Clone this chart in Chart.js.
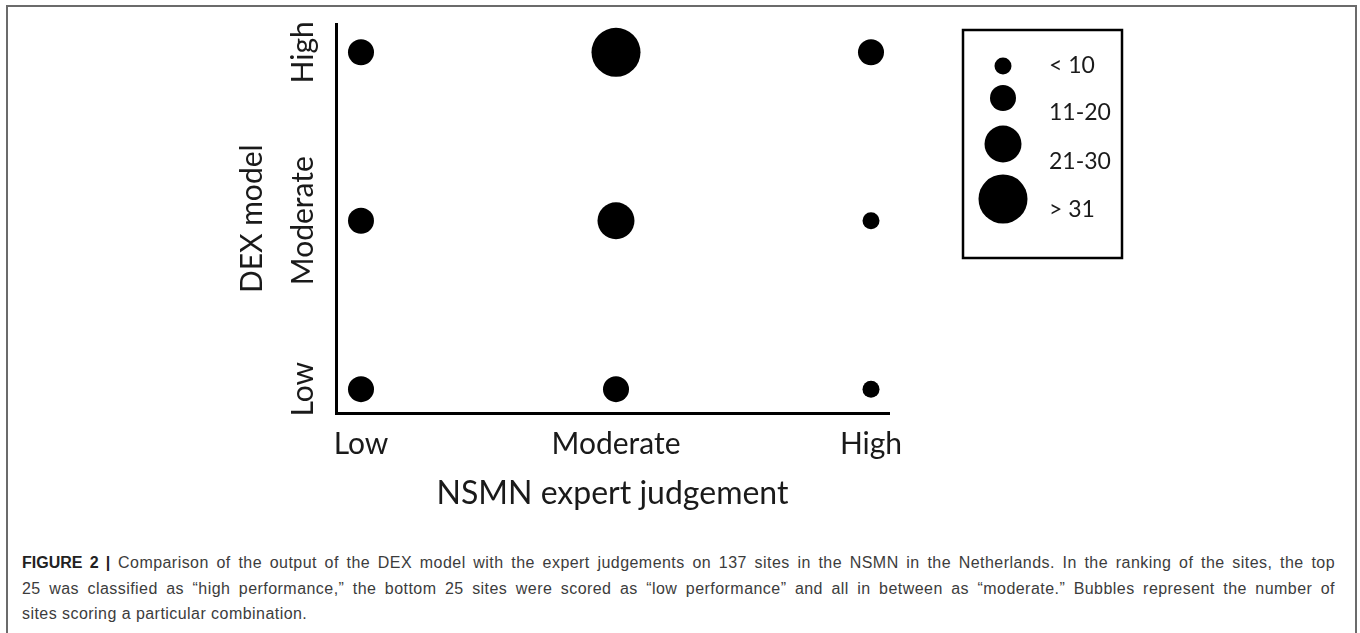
<!DOCTYPE html>
<html>
<head>
<meta charset="utf-8">
<script src="https://cdn.jsdelivr.net/npm/chart.js@4.4.1/dist/chart.umd.min.js"></script>
<style>
  html, body { margin: 0; padding: 0; background: #fff; }
  body { width: 1360px; height: 633px; position: relative; overflow: hidden; }
  #frame { position: absolute; left: 6px; top: 5px; width: 1347px; height: 700px; border: 2px solid #6b6b6b; border-bottom: none; }
  #wrap { position: absolute; left: 0; top: 0; width: 1360px; height: 540px; }
  #caption { position: absolute; left: 22px; top: 550px; width: 1313px; font-family: "Liberation Sans", Arial, sans-serif; font-size: 16px; letter-spacing: 0.45px; color: #3c3c3c; }
  #caption .line { height: 25.7px; line-height: 25.7px; white-space: nowrap; text-align: justify; text-align-last: justify; }
  #caption .line.last { text-align-last: left; }
  #caption b { color: #222; letter-spacing: 0; }
</style>
</head>
<body>
<div id="frame"></div>
<div id="wrap"><canvas id="chart"></canvas></div>
<div id="caption">
  <div class="line"><b>FIGURE 2 |</b> Comparison of the output of the DEX model with the expert judgements on 137 sites in the NSMN in the Netherlands. In the ranking of the sites, the top</div>
  <div class="line">25 was classified as “high performance,” the bottom 25 sites were scored as “low performance” and all in between as “moderate.” Bubbles represent the number of</div>
  <div class="line last">sites scoring a particular combination.</div>
</div>
<script>
// categories on both axes
const expertLevels = ["Low", "Moderate", "High"];
const dexLevels = ["Low", "Moderate", "High"];

// number of sites per DEX row, by expert column (Low, Moderate, High)
const sitesDexLow = [15, 13, 5];
const sitesDexModerate = [14, 25, 6];
const sitesDexHigh = [13, 34, 12];

// legend classes
const legendLabels = ["< 10", "11-20", "21-30", "> 31"];
const legendCounts = [5, 15, 25, 35];

const FONT = "Lato, 'Open Sans', sans-serif";
const TEXT = "#1a1a1a";

function bubbleRadius(n) {
  if (n <= 10) return 8.5;
  if (n <= 20) return 13;
  if (n <= 30) return 18.5;
  return 24.5;
}

const points = [];
[sitesDexLow, sitesDexModerate, sitesDexHigh].forEach((row, yi) => {
  row.forEach((n, xi) => {
    points.push({ x: xi, y: yi, r: bubbleRadius(n), n: n });
  });
});

// y tick labels are rotated and centred on x=303
const mctx = document.createElement("canvas").getContext("2d");
mctx.font = "30px " + FONT;
const widest = Math.max(...dexLevels.map(t => mctx.measureText(t).width));

const legendBox = {
  id: "legendBox",
  afterDraw(chart) {
    const ctx = chart.ctx;
    ctx.save();
    ctx.strokeStyle = "#000";
    ctx.lineWidth = 2.5;
    ctx.strokeRect(963, 30, 159, 228);
    const cy = [66, 98, 144, 199];
    const ty = [66, 113, 162, 210];
    ctx.fillStyle = "#000";
    legendCounts.forEach((n, i) => {
      ctx.beginPath();
      ctx.arc(1003, cy[i], bubbleRadius(n), 0, Math.PI * 2);
      ctx.fill();
    });
    ctx.fillStyle = TEXT;
    ctx.font = "23px " + FONT;
    ctx.textBaseline = "middle";
    ctx.textAlign = "left";
    legendLabels.forEach((t, i) => ctx.fillText(t, 1049, ty[i]));
    ctx.restore();
  }
};

new Chart(document.getElementById("chart"), {
  type: "bubble",
  data: {
    datasets: [{
      label: "Sites",
      data: points,
      backgroundColor: "#000",
      borderColor: "#000",
      borderWidth: 0
    }]
  },
  options: {
    responsive: true,
    maintainAspectRatio: false,
    animation: false,
    devicePixelRatio: 1,
    layout: { padding: { top: 22, right: 471, left: 0, bottom: 0 } },
    plugins: { legend: { display: false }, tooltip: { enabled: false } },
    scales: {
      x: {
        type: "linear",
        min: -0.098,
        max: 2.0706,
        afterBuildTicks: s => { s.ticks = [0, 1, 2].map(v => ({ value: v })); },
        afterFit: s => { s.height = 127; },
        grid: { display: false, drawTicks: false },
        border: { display: true, color: "#000", width: 3 },
        ticks: {
          callback: v => expertLevels[v],
          font: { family: FONT, size: 30 },
          color: TEXT,
          padding: 13,
          maxRotation: 0,
          autoSkip: false
        },
        title: {
          display: true,
          text: "NSMN expert judgement",
          font: { family: FONT, size: 32 },
          color: TEXT,
          padding: { top: 0, bottom: 27 }
        }
      },
      y: {
        type: "linear",
        min: -0.1416,
        max: 2.165,
        afterBuildTicks: s => { s.ticks = [0, 1, 2].map(v => ({ value: v })); },
        afterFit: s => { s.width = 336; },
        grid: { display: false, drawTicks: false },
        border: { display: true, color: "#000", width: 3 },
        ticks: {
          callback: v => dexLevels[v],
          font: { family: FONT, size: 30 },
          color: TEXT,
          minRotation: 90,
          maxRotation: 90,
          crossAlign: "center",
          padding: 33 - widest / 2,
          autoSkip: false
        },
        title: {
          display: true,
          text: "DEX model",
          font: { family: FONT, size: 30 },
          color: TEXT,
          padding: { top: 234, bottom: 0 }
        }
      }
    }
  },
  plugins: [legendBox]
});
</script>
</body>
</html>
